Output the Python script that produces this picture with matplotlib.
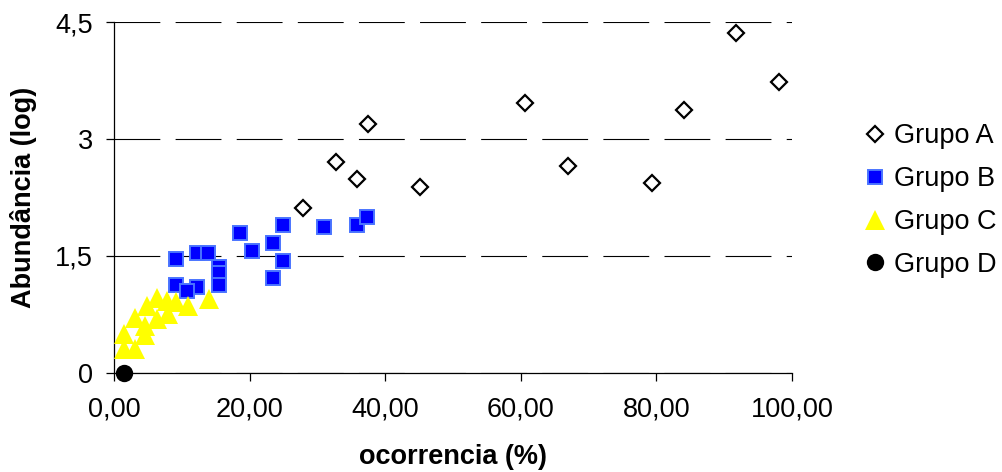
import matplotlib
matplotlib.use('Agg')
import matplotlib.pyplot as plt
from matplotlib.ticker import FuncFormatter

plt.rcParams['font.family'] = ['Liberation Sans', 'DejaVu Sans']
plt.rcParams['lines.scale_dashes'] = False

# Grupo A
grupo_a_x = [27.9, 32.7, 35.8, 37.4, 45.1, 60.6, 66.9, 79.4, 84.1, 91.7, 98.1]
grupo_a_y = [2.11, 2.70, 2.49, 3.19, 2.39, 3.47, 2.65, 2.44, 3.37, 4.37, 3.73]

# Grupo B
grupo_b_x = [9.1, 12.2, 13.9, 15.5, 15.5, 15.5, 9.1, 12.3, 10.7, 18.6,
             20.3, 23.4, 23.4, 24.9, 24.9, 31.0, 35.8, 37.3]
grupo_b_y = [1.46, 1.53, 1.53, 1.35, 1.28, 1.12, 1.12, 1.10, 1.05, 1.79,
             1.56, 1.66, 1.22, 1.89, 1.43, 1.87, 1.89, 2.00]

# Grupo C
grupo_c_x = [1.4, 3.1, 1.4, 3.1, 4.6, 4.6, 4.8, 6.3, 6.3, 7.8, 8.0, 9.2, 10.9, 14.0]
grupo_c_y = [0.30, 0.30, 0.49, 0.70, 0.60, 0.48, 0.85, 0.96, 0.69, 0.92, 0.75, 0.90, 0.85, 0.95]

# Grupo D
grupo_d_x = [1.4]
grupo_d_y = [0.0]

x_ticks = [0, 20, 40, 60, 80, 100]
y_ticks = [0, 1.5, 3, 4.5]

fig = plt.figure(figsize=(10.03, 4.72), dpi=100)
ax = fig.add_axes([0.1137, 0.2108, 0.6759, 0.7417])

ax.plot(grupo_a_x, grupo_a_y, 'D', ms=8.3, mfc='white', mec='black', mew=1.6,
        label='Grupo A', clip_on=False, zorder=3)
ax.plot(grupo_b_x, grupo_b_y, 's', ms=10, mfc='#0000ff', mec='#4a74ff', mew=1.4,
        label='Grupo B', clip_on=False, zorder=3)
ax.plot(grupo_c_x, grupo_c_y, '^', ms=14, mfc='#ffff00', mec='#ffff00', mew=0,
        label='Grupo C', clip_on=False, zorder=3)
ax.plot(grupo_d_x, grupo_d_y, 'o', ms=12.5, mfc='black', mec='black', mew=0,
        label='Grupo D', clip_on=False, zorder=4)

ax.set_xlim(0, 100)
ax.set_ylim(0, 4.5)
ax.set_xticks(x_ticks)
ax.set_yticks(y_ticks)
ax.xaxis.set_major_formatter(FuncFormatter(lambda v, p: f'{v:.2f}'.replace('.', ',')))
ax.yaxis.set_major_formatter(FuncFormatter(lambda v, p: f'{v:g}'.replace('.', ',')))

ax.spines['top'].set_visible(False)
ax.spines['right'].set_visible(False)
for s in ['left', 'bottom']:
    ax.spines[s].set_linewidth(0.9)
ax.tick_params(axis='both', direction='out', length=6, width=0.9, labelsize=19.5)
ax.tick_params(axis='y', pad=9)
ax.tick_params(axis='x', pad=11)

ax.set_axisbelow(True)
ax.yaxis.grid(True, color='black', linewidth=0.8, linestyle=(0, (33, 11)))

ax.set_xlabel('ocorrencia (%)', fontsize=19.5, fontweight='bold', labelpad=16)
ax.set_ylabel('Abundância (log)', fontsize=19.5, fontweight='bold', labelpad=13)

ax.legend(loc='center left', bbox_to_anchor=(0.860, 0.575), bbox_transform=fig.transFigure,
          frameon=False, fontsize=19.5, handlelength=0.9, handletextpad=0.25,
          labelspacing=0.62, borderpad=0, borderaxespad=0)

fig.savefig('out.png', dpi=100)
